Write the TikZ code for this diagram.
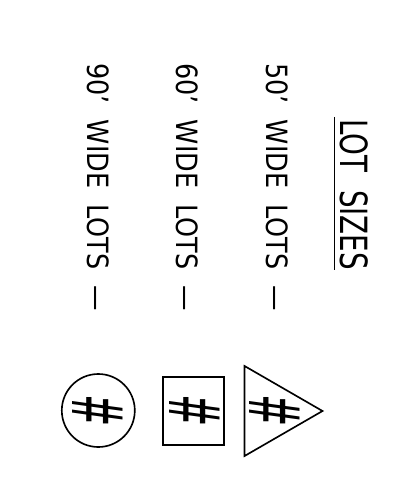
\documentclass[tikz,border=0pt]{standalone}
\usepackage{fontspec}
\setmainfont{DejaVu Sans}
\newfontfamily\lotfont{DejaVu Sans}[WordSpace=2.7]
\newfontfamily\headfont{DejaVu Sans}[WordSpace=2.0]
\usetikzlibrary{calc,shapes.geometric}

\begin{document}
\begin{tikzpicture}[x=0.03cm,y=-0.03cm,
  legendtext/.style={rotate=-90,anchor=base west,inner sep=0pt,xscale=0.87,
    font=\lotfont\fontsize{25}{28}\selectfont},
  titletext/.style={legendtext,xscale=0.74/0.87,font=\headfont\fontsize{32}{35}\selectfont},
  lotmark/.style={draw,line width=1.4pt,inner sep=0pt},
  hashmark/.style={rotate=-90,inner sep=0pt,xscale=0.55,
    font=\fontsize{60}{64}\selectfont}]
\useasboundingbox (0,0) rectangle (415,485);

% heading
\node[titletext] (title) at (340,119) {LOT SIZES};
\draw[line width=1.6pt] ($(title.base west)+(-5.5,-2)$) -- ($(title.base east)+(-5.5,0)$);

% legend rows
\node[legendtext] (fifty) at (266,63) {50’ WIDE LOTS —};
\node[legendtext] (sixty) at (176,63) {60’ WIDE LOTS —};
\node[legendtext] (ninety) at (87,63) {90’ WIDE LOTS —};

% symbols
\node[lotmark,regular polygon,regular polygon sides=3,shape border rotate=-90,
  minimum size=3.12cm] (tri) at (270.5,411) {};
\node[lotmark,rectangle,minimum width=1.83cm,minimum height=2.04cm] (box) at (193.5,411) {};
\node[lotmark,circle,minimum size=2.19cm] (ring) at (98.3,410.5) {};
\node[hashmark] (trihash) at (274.5,410.5) {\#};
\node[hashmark] (boxhash) at (195,410.5) {\#};
\node[hashmark] (ringhash) at (98,410.5) {\#};
\end{tikzpicture}
\end{document}
